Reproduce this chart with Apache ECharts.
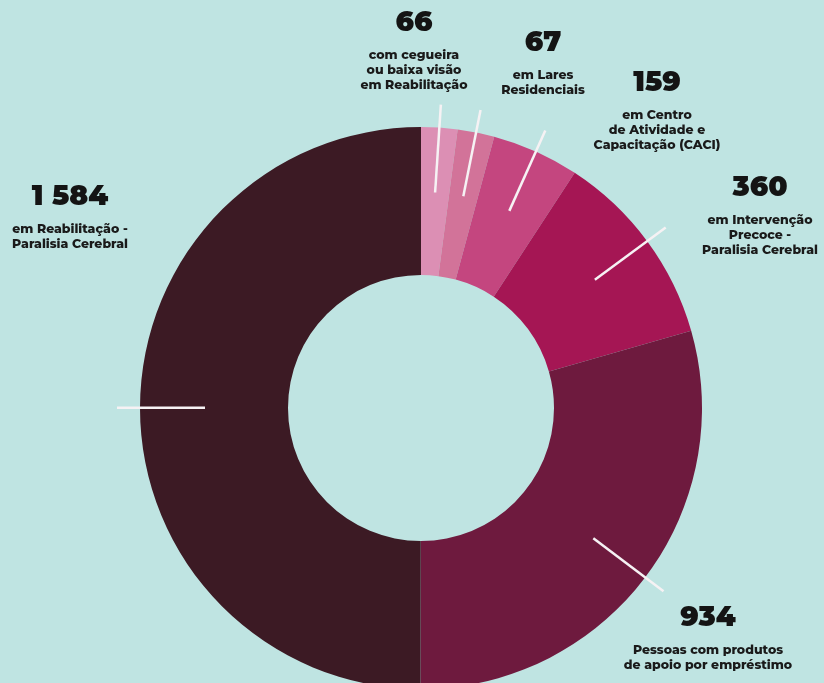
<!DOCTYPE html>
<html>
<head>
<meta charset="utf-8">
<script src="https://cdn.jsdelivr.net/npm/echarts@6/dist/echarts.min.js"></script>
<style>
  html, body { margin: 0; padding: 0; background: #bfe4e2; }
  #chart { width: 824px; height: 683px; }
</style>
</head>
<body>
<div id="chart"></div>
<script>
// ---- data ----
const categories = [
  'com cegueira\nou baixa visão\nem Reabilitação',
  'em Lares\nResidenciais',
  'em Centro\nde Atividade e\nCapacitação (CACI)',
  'em Intervenção\nPrecoce -\nParalisia Cerebral',
  'Pessoas com produtos\nde apoio por empréstimo',
  'em Reabilitação -\nParalisia Cerebral'
];
const values = [66, 67, 159, 360, 934, 1584];
const valueLabels = ['66', '67', '159', '360', '934', '1 584'];

// ---- styles / layout ----
const colors = ['#dc8fb4', '#d27399', '#c4467f', '#a51654', '#6e1a3e', '#3c1a24'];
const labelAnchors = [[414, -2], [543, 18], [657, 58], [760, 163], [708, 593], [70, 172]];
const center = [421, 408];
const fontFam = 'Montserrat, Inter, "Open Sans", sans-serif';

const ringData = values.map((v, i) => ({
  value: v, name: categories[i], itemStyle: { color: colors[i] }
}));
const lineData = values.map((v, i) => ({ value: v, name: categories[i] }));

const chart = echarts.init(document.getElementById('chart'), null, { renderer: 'canvas' });
chart.setOption({
  backgroundColor: '#bfe4e2',
  animation: false,
  series: [
    {
      type: 'pie',
      z: 2,
      center: center,
      radius: [133, 281],
      startAngle: 90,
      clockwise: true,
      silent: true,
      avoidLabelOverlap: false,
      data: ringData,
      label: {
        show: true,
        position: 'outside',
        formatter: (p) => '{num|' + valueLabels[p.dataIndex] + '}\n{desc|' +
          p.name.split('\n').join('}\n{desc|') + '}',
        align: 'center',
        rich: {
          num: { fontFamily: fontFam, fontSize: 28, fontWeight: 900,
                 color: '#141414', lineHeight: 50, align: 'center' },
          desc: { fontFamily: fontFam, fontSize: 12.5, fontWeight: 800,
                  color: '#1a1a1a', lineHeight: 15, align: 'center' }
        }
      },
      labelLine: { show: false },
      labelLayout: (params) => {
        const a = labelAnchors[params.dataIndex];
        return { x: a[0], y: a[1], align: 'center', verticalAlign: 'top' };
      }
    },
    {
      type: 'pie',
      z: 10,
      zlevel: 1,
      center: center,
      radius: [0, 216],
      startAngle: 90,
      clockwise: true,
      silent: true,
      avoidLabelOverlap: false,
      data: lineData,
      itemStyle: { color: 'rgba(0,0,0,0)' },
      label: { show: true, position: 'outside', formatter: ' ', fontSize: 1, distanceToLabelLine: 0 },
      labelLine: { show: true, length: 88, length2: 0, smooth: false,
                   lineStyle: { color: '#f6f2f4', width: 2.5 } }
    }
  ]
});
</script>
</body>
</html>
